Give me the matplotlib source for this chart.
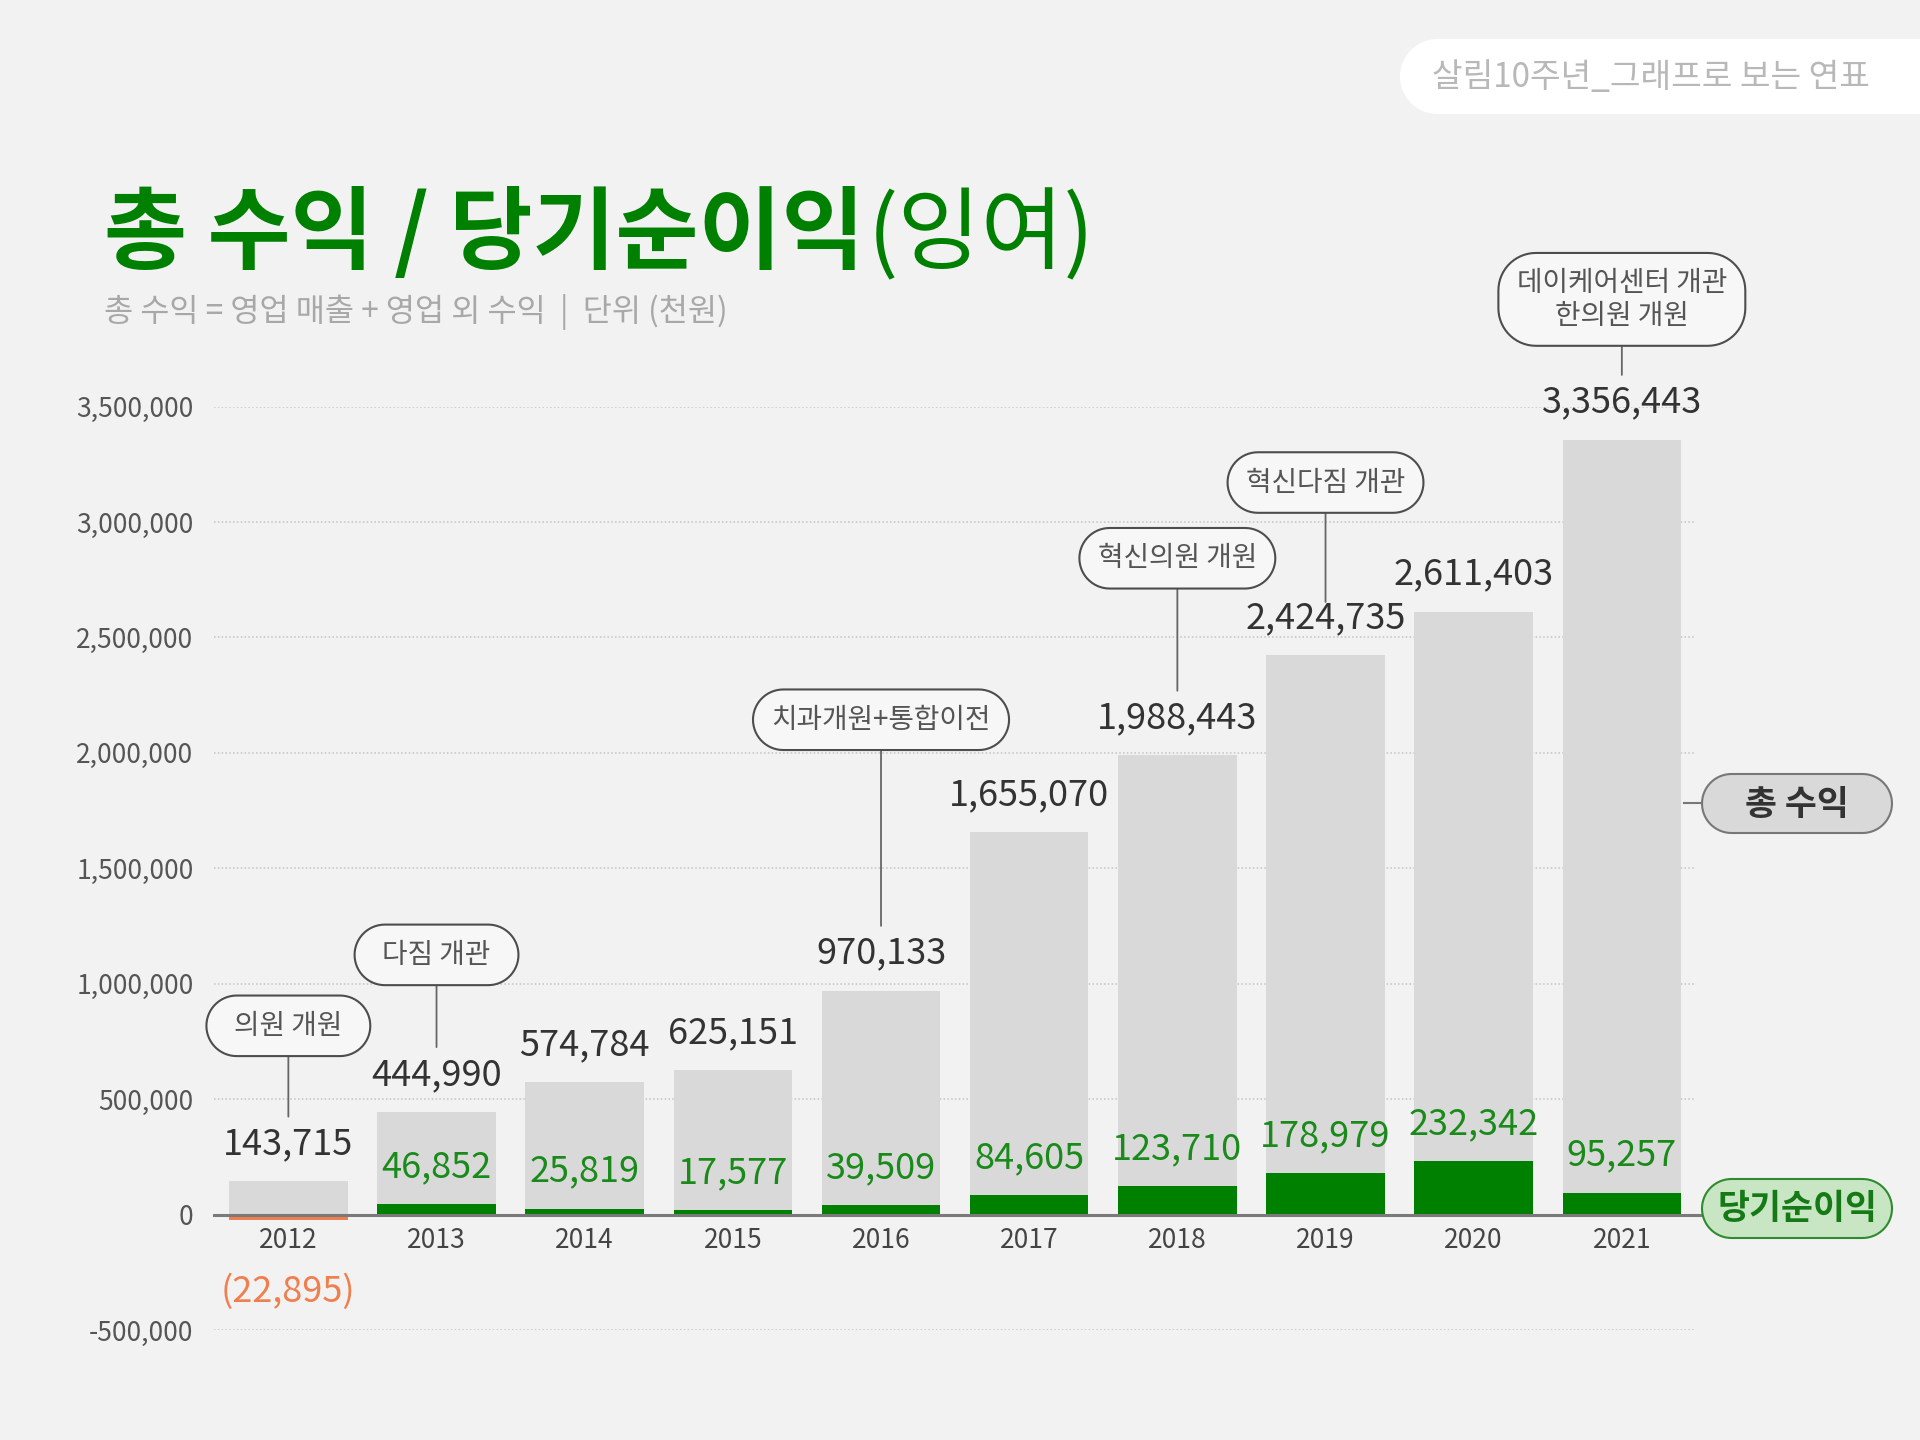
import numpy as np
import matplotlib
matplotlib.use('Agg')
import matplotlib.pyplot as plt
from matplotlib.patches import FancyBboxPatch, PathPatch
from matplotlib.path import Path
from matplotlib.ticker import FuncFormatter

plt.rcParams['font.family'] = ['Noto Sans CJK KR', 'DejaVu Sans']

# data (단위: 천원)
years = ['2012', '2013', '2014', '2015', '2016', '2017', '2018', '2019', '2020', '2021']
total_income = [143715, 444990, 574784, 625151, 970133, 1655070, 1988443, 2424735, 2611403, 3356443]
net_income = [-22895, 46852, 25819, 17577, 39509, 84605, 123710, 178979, 232342, 95257]
events = {
    '2012': '의원 개원',
    '2013': '다짐 개관',
    '2016': '치과개원+통합이전',
    '2018': '혁신의원 개원',
    '2019': '혁신다짐 개관',
    '2021': '데이케어센터 개관\n한의원 개원',
}
yticks = [-500000, 0, 500000, 1000000, 1500000, 2000000, 2500000, 3000000, 3500000]

title_bold = '총 수익 / 당기순이익'
title_light = '(잉여)'
subtitle = '총 수익 = 영업 매출 + 영업 외 수익  |  단위 (천원)'
header = '살림10주년_그래프로 보는 연표'

# layout: how far above the value label each callout box sits (points)
callout_rise = {'2012': 112, '2013': 113, '2016': 195, '2018': 142, '2019': 124, '2021': 101}
callout_gap = {'2019': 38}

BG = '#f2f2f2'
GRAY_BAR = '#d9d9d9'
GREEN = '#008000'
GREEN_TXT = '#1a8a1a'
ORANGE = '#f07f4f'


def pill_path(x0, y0, w, h, r):
    # rounded rectangle with real circular corners
    pts = []
    corners = [(x0 + w - r, y0 + r, -90), (x0 + w - r, y0 + h - r, 0),
               (x0 + r, y0 + h - r, 90), (x0 + r, y0 + r, 180)]
    for cx, cy, a0 in corners:
        a = np.radians(np.linspace(a0, a0 + 90, 16))
        pts += list(zip(cx + r * np.cos(a), cy + r * np.sin(a)))
    pts.append(pts[0])
    codes = [Path.MOVETO] + [Path.LINETO] * (len(pts) - 2) + [Path.CLOSEPOLY]
    return Path(pts, codes)


def callout_box(x0, y0, width, height, mutation_size):
    padx = 0.66 * mutation_size
    pady = 0.55 * mutation_size
    w = max(width + 2 * padx, 5.9 * mutation_size)
    h = height + 2 * pady
    bx = x0 + width / 2 - w / 2
    by = y0 - pady
    r = min(h / 2, 1.35 * mutation_size)
    return pill_path(bx, by, w, h, r)


fig = plt.figure(figsize=(19.2, 14.4), dpi=100, facecolor=BG)
ax = fig.add_axes([0.1116, 0.0764, 0.7717, 0.6413], facecolor=BG)

x = np.arange(len(years))
ax.bar(x, total_income, width=0.8, color=GRAY_BAR, zorder=2)
net_colors = [GREEN if v >= 0 else ORANGE for v in net_income]
ax.bar(x, net_income, width=0.8, color=net_colors, zorder=3)

ax.set_xlim(-0.5, 9.5)
ax.set_ylim(-500000, 3500000)
ax.set_yticks(yticks)
ax.yaxis.set_major_formatter(FuncFormatter(lambda v, p: f'{v:,.0f}'))
ax.set_xticks([])
ax.tick_params(axis='y', length=0, pad=15, labelsize=19, labelcolor='#555555')
for s in ax.spines.values():
    s.set_visible(False)
ax.grid(axis='y', linestyle=(0, (1, 1.5)), color='#c4c4c4', linewidth=1.1)
ax.set_axisbelow(True)
ax.axhline(0, color='#7a7a7a', linewidth=2.2, zorder=4, xmax=1.012, clip_on=False)

# year labels under the zero line
for i, yr in enumerate(years):
    ax.annotate(yr, xy=(i, 0), xytext=(0, -18.5), textcoords='offset points',
                ha='center', va='center', fontsize=19, color='#444444')

# value labels
for i, (t, n) in enumerate(zip(total_income, net_income)):
    ax.annotate(f'{t:,}', xy=(i, t), xytext=(0, 26.6), textcoords='offset points',
                ha='center', va='center', fontsize=26, color='#333333', zorder=5)
    if n >= 0:
        ax.annotate(f'{n:,}', xy=(i, n), xytext=(0, 26.6), textcoords='offset points',
                    ha='center', va='center', fontsize=26, color=GREEN_TXT, zorder=5)
    else:
        ax.annotate(f'({-n:,})', xy=(i, 0), xytext=(0, -55.5), textcoords='offset points',
                    ha='center', va='center', fontsize=26, color=ORANGE, zorder=5)

# event callouts
for yr, label in events.items():
    i = years.index(yr)
    ax.annotate(label, xy=(i, total_income[i]), xytext=(0, callout_rise[yr]),
                textcoords='offset points', ha='center', va='center',
                fontsize=20, color='#555555', linespacing=1.1, zorder=6,
                bbox=dict(boxstyle=callout_box, fc='#f7f7f7', ec='#4d4d4d', lw=1.5),
                arrowprops=dict(arrowstyle='-', color='#666666', lw=1.3,
                                shrinkA=0, shrinkB=callout_gap.get(yr, 46.6)))

# overlay in pixel coordinates for header / legend pills
ov = fig.add_axes([0, 0, 1, 1])
ov.set_xlim(0, 1920)
ov.set_ylim(1440, 0)
ov.axis('off')

ov.add_patch(PathPatch(pill_path(1400, 39, 600, 75, 37.5), fc='white', ec='none'))
ov.text(1651, 77, header, ha='center', va='center', fontsize=24, color='#b8b8b8')

# legend pills
ov.plot([1684, 1702], [803, 803], color='#777777', lw=1.5)
ov.add_patch(PathPatch(pill_path(1702, 774, 190, 59, 29.5),
                       fc=GRAY_BAR, ec='#777777', lw=1.5))
ov.text(1797, 804, '총 수익', ha='center', va='center', fontsize=25,
        fontweight='bold', color='#333333')
ov.add_patch(PathPatch(pill_path(1702, 1179, 190, 59, 29.5),
                       fc='#c8e6c4', ec='#2e8b2e', lw=1.5))
ov.text(1797, 1209, '당기순이익', ha='center', va='center', fontsize=25,
        fontweight='bold', color='#157a15')

# title
t1 = fig.text(0.054, 0.818, title_bold, fontsize=65, fontweight='bold',
              color=GREEN, va='baseline')
r = fig.canvas.get_renderer()
bb = t1.get_window_extent(renderer=r)
fig.text(bb.x1 / fig.bbox.width + 0.002, 0.818, title_light, fontsize=65,
         color=GREEN, va='baseline')
fig.text(0.054, 0.777, subtitle, fontsize=22.8, color='#a8a8a8', va='baseline')

fig.savefig('out.png', dpi=100, facecolor=BG)
